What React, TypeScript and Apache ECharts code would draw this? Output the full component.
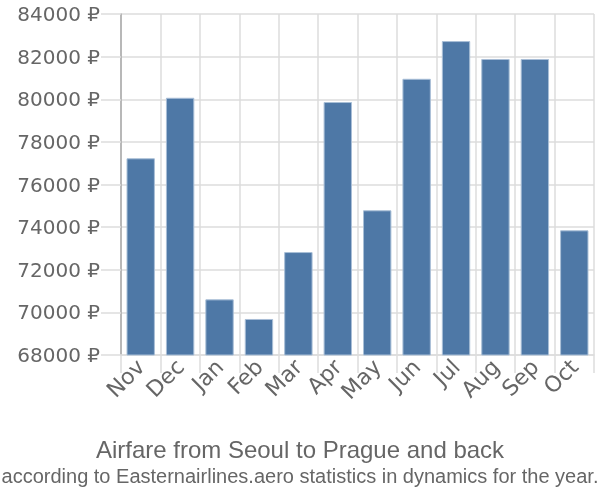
import React, { useEffect, useRef } from "react";
import * as echarts from "echarts";

const months = ["Nov", "Dec", "Jan", "Feb", "Mar", "Apr", "May", "Jun", "Jul", "Aug", "Sep", "Oct"];
const prices = [77230, 80070, 70610, 69690, 72830, 79870, 74790, 80960, 82730, 81890, 81890, 73850];
const titleText = "Airfare from Seoul to Prague and back";
const subtitleText = "according to Easternairlines.aero statistics in dynamics for the year.";

export default function App() {
  const ref = useRef<HTMLDivElement>(null);
  useEffect(() => {
    const chart = echarts.init(ref.current!, null, { renderer: "svg" });
    chart.setOption({
      animation: false,
      textStyle: { fontFamily: "Liberation Sans" },
      title: {
        text: titleText,
        subtext: subtitleText,
        left: "center",
        top: 432,
        itemGap: 5,
        textStyle: { fontSize: 24, fontWeight: "normal", color: "#666", fontFamily: "Liberation Sans" },
        subtextStyle: { fontSize: 20, color: "#666", fontFamily: "Liberation Sans" },
      },
      grid: { left: 121, right: 6, top: 14, bottom: 145 },
      xAxis: {
        type: "category",
        data: months,
        boundaryGap: true,
        axisLine: { show: true, lineStyle: { color: "#ddd", width: 1.5 } },
        axisTick: { show: true, length: 18, lineStyle: { color: "#ddd", width: 1.5 } },
        splitLine: { show: true, lineStyle: { color: "#ddd", width: 1.5 } },
        axisLabel: { rotate: 45, fontSize: 22, color: "#666", margin: 8, interval: 0, fontFamily: "DejaVu Sans" },
      },
      yAxis: {
        type: "value",
        min: 68000,
        max: 84000,
        interval: 2000,
        axisLine: { show: true, lineStyle: { color: "#aaa", width: 1.5 } },
        axisTick: { show: true, length: 20, lineStyle: { color: "#ddd", width: 1.5 } },
        splitLine: { show: true, lineStyle: { color: "#ddd", width: 1.5 } },
        axisLabel: { fontSize: 20, color: "#666", margin: 21, fontFamily: "DejaVu Sans", formatter: (v: number) => `${v} ₽` },
      },
      series: [
        {
          type: "bar",
          data: prices,
          barWidth: "72%",
          itemStyle: { color: "#4e78a6", borderColor: "#a9bfd7", borderWidth: 1 },
        },
      ],
    });
    return () => chart.dispose();
  }, []);
  return <div ref={ref} style={{ position: "fixed", left: 0, top: 0, width: 600, height: 500 }} />;
}
